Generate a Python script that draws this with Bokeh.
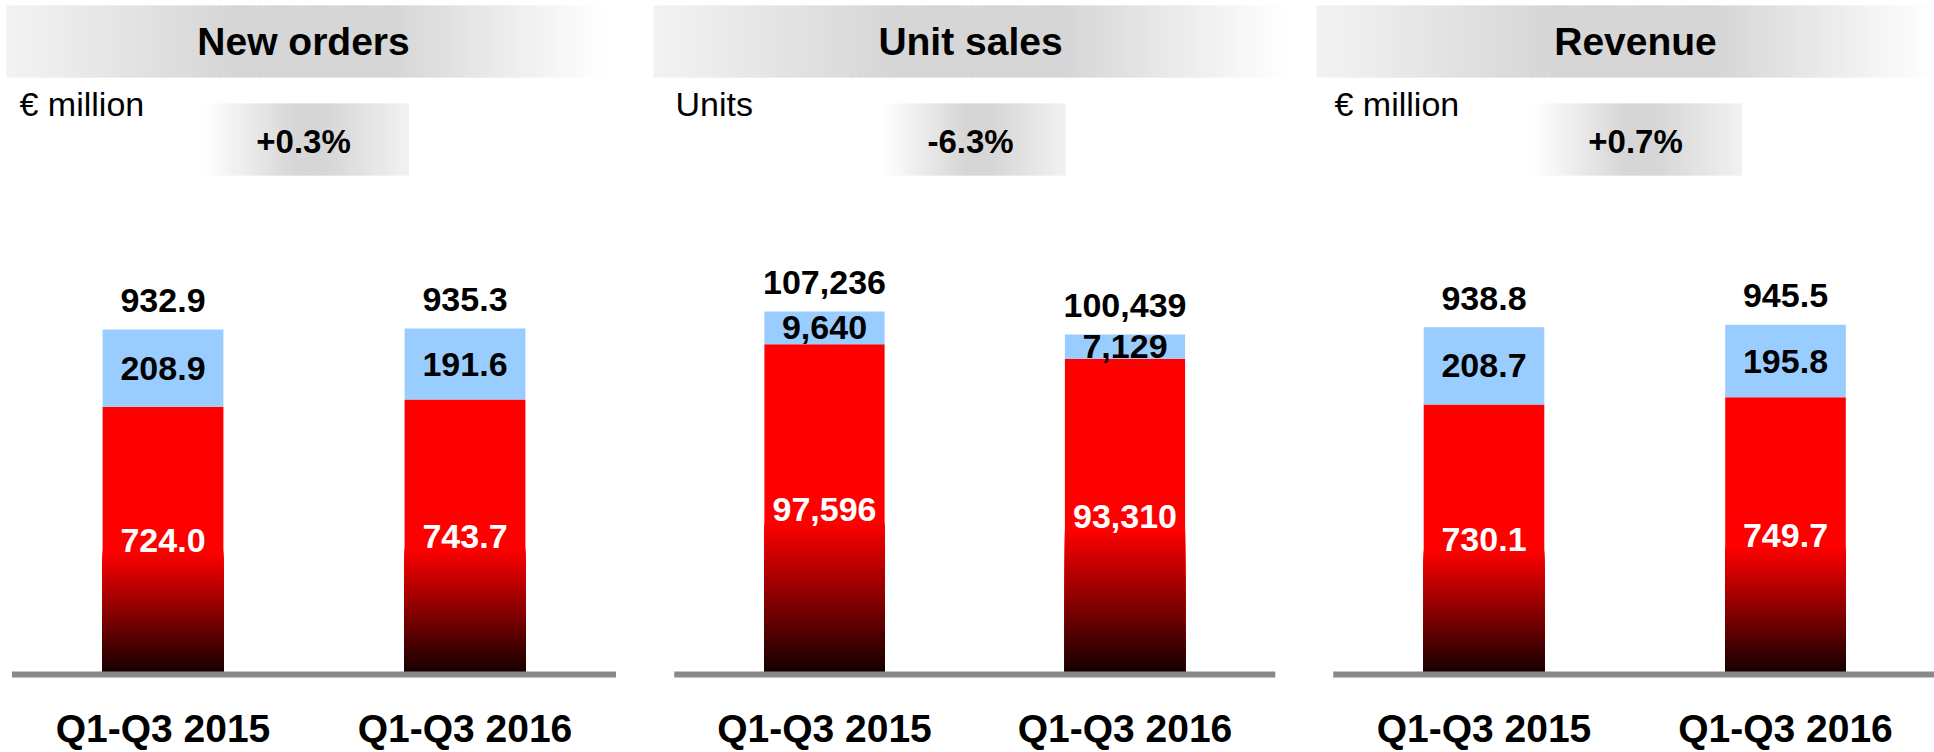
from bokeh.plotting import figure
from bokeh.layouts import row
from bokeh.models import Range1d, FixedTicker
from bokeh.embed import file_html
from bokeh.resources import INLINE
from bokeh.core.properties import value
import numpy as np

# ---------------- data ----------------
categories = ["Q1-Q3 2015", "Q1-Q3 2016"]
titles = ["New orders", "Unit sales", "Revenue"]
unit_labels = ["€ million", "Units", "€ million"]
changes = ["+0.3%", "-6.3%", "+0.7%"]

orders_domestic = [724.0, 743.7]
orders_other = [208.9, 191.6]
units_domestic = [97596, 93310]
units_other = [9640, 7129]
revenue_domestic = [730.1, 749.7]
revenue_other = [208.7, 195.8]

# ---------------- style / layout ----------------
FONT = "Liberation Sans"
H = 752
ZERO_Y = 674      # pixel row of the value 0 (baseline centre)
FRAME_H = 678     # frame reaches a little below the baseline so it is not clipped
RED = (255, 0, 0)
DARK = (16, 0, 0)
BLUE = "#99ccff"
BASE = "#898989"


def hexc(rgb):
    return "#%02x%02x%02x" % tuple(int(round(c)) for c in rgb)


def grey_profile(knots, levels, darkest, n):
    t = (np.arange(n) + 0.5) / n
    inten = np.interp(t, knots, levels)
    g = 255 - (255 - darkest) * inten
    return [hexc((v, v, v)) for v in g]


def make_panel(title, unit, change, red, blue, fmt, cfg):
    W = cfg["w"]
    c0, c1 = cfg["centers"]
    step = c1 - c0
    ppu = cfg["ppu"]
    p = figure(width=W, height=H,
               x_range=Range1d(-c0 / step, (W - c0) / step),
               y_range=Range1d(-(FRAME_H - ZERO_Y) / ppu, ZERO_Y / ppu),
               output_backend="svg", toolbar_location=None,
               y_axis_location=None, x_axis_location="below",
               min_border_left=0, min_border_right=0, min_border_top=0,
               min_border_bottom=H - FRAME_H, outline_line_color=None,
               border_fill_color="white", background_fill_color="white")
    p.grid.visible = False
    p.extra_x_ranges = {"px": Range1d(0, W)}
    p.extra_y_ranges = {"px": Range1d(FRAME_H, 0)}

    # title band (horizontal grey gradient)
    bl, br = cfg["band"]
    n = 90
    edges = np.linspace(bl, br, n + 1)
    ov = (br - bl) / n * 0.6
    p.quad(left=edges[:-1], right=edges[1:] + ov, top=5, bottom=77,
           fill_color=grey_profile([0, 0.38, 0.65, 1], [0.3, 1, 1, 0], 214, n),
           line_color=None, x_range_name="px", y_range_name="px")
    # change box
    kl, kr = cfg["box"]
    n2 = 50
    edges2 = np.linspace(kl, kr, n2 + 1)
    ov2 = (kr - kl) / n2 * 0.6
    p.quad(left=edges2[:-1], right=edges2[1:] + ov2, top=103, bottom=175,
           fill_color=grey_profile([0, 0.45, 0.6, 1], [0, 1, 1, 0.35], 214, n2),
           line_color=None, x_range_name="px", y_range_name="px")

    p.text(x=[cfg["tx"]], y=[41], text=[title], x_range_name="px", y_range_name="px",
           text_font=value(FONT), text_font_style="bold", text_font_size="39px",
           text_align="center", text_baseline="middle", text_color="black")
    p.text(x=[cfg["ux"]], y=[103], text=[unit], x_range_name="px", y_range_name="px",
           text_font=value(FONT), text_font_size="34px",
           text_align="left", text_baseline="middle", text_color="black")
    p.text(x=[cfg["tx"]], y=[141], text=[change], x_range_name="px", y_range_name="px",
           text_font=value(FONT), text_font_style="bold", text_font_size="33px",
           text_align="center", text_baseline="middle", text_color="black")

    idx = list(range(len(categories)))
    bw = 0.4
    # red bars: solid, then a dark-to-red gradient over the lower part (overlapping slices)
    g = 0.46
    ng = 64
    xs, tops, cols = list(idx), list(red), [hexc(RED)] * len(idx)
    for k in range(ng - 1, -1, -1):
        fm = (k + 0.5) / ng
        col = hexc(tuple(DARK[j] + (RED[j] - DARK[j]) * fm for j in range(3)))
        for i, r in zip(idx, red):
            xs.append(i); tops.append(g * r * (k + 1) / ng); cols.append(col)
    p.vbar(x=xs, width=bw, bottom=0, top=tops, fill_color=cols, line_color=None)
    totals = [r + b for r, b in zip(red, blue)]
    p.vbar(x=idx, width=bw, bottom=red, top=totals, fill_color=BLUE, line_color=None)

    # baseline
    p.segment(x0=[-0.5], y0=[0], x1=[len(categories) - 0.5], y1=[0], line_width=6, line_color=BASE)

    tf = dict(text_font=value(FONT), text_font_style="bold", text_font_size="34px",
              text_align="center", text_baseline="middle")
    p.text(x=idx, y=totals, text=[fmt(v) for v in totals], y_offset=-29, text_color="black", **tf)
    p.text(x=idx, y=[r + b / 2 for r, b in zip(red, blue)], text=[fmt(v) for v in blue],
           text_color="black", **tf)
    p.text(x=idx, y=[r / 2 for r in red], text=[fmt(v) for v in red], text_color="white", **tf)

    ax = p.xaxis[0]
    ax.ticker = FixedTicker(ticks=idx)
    ax.major_label_overrides = {i: c for i, c in zip(idx, categories)}
    ax.axis_line_color = None
    ax.major_tick_line_color = None
    ax.minor_tick_line_color = None
    ax.major_tick_out = 0
    ax.major_tick_in = 0
    ax.major_label_standoff = 32 - (FRAME_H - ZERO_Y)
    ax.major_label_text_font = FONT
    ax.major_label_text_font_style = "bold"
    ax.major_label_text_font_size = "39px"
    ax.major_label_text_color = "black"
    return p


fmt_dec = lambda v: f"{v:,.1f}"
fmt_int = lambda v: f"{int(round(v)):,}"

cfgs = [
    dict(w=650, centers=(162.5, 464.5), ppu=345.0 / 932.9, band=(6, 602), box=(204, 406), tx=303, ux=19),
    dict(w=650, centers=(174.0, 474.5), ppu=363.0 / 107236, band=(3, 636), box=(233, 413), tx=320, ux=25),
    dict(w=634, centers=(183.5, 485.0), ppu=345.0 / 932.9, band=(16, 634), box=(232, 439), tx=335, ux=34),
]

p1 = make_panel(titles[0], unit_labels[0], changes[0], orders_domestic, orders_other, fmt_dec, cfgs[0])
p2 = make_panel(titles[1], unit_labels[1], changes[1], units_domestic, units_other, fmt_int, cfgs[1])
p3 = make_panel(titles[2], unit_labels[2], changes[2], revenue_domestic, revenue_other, fmt_dec, cfgs[2])

layout = row(p1, p2, p3, spacing=0)

open("out.html", "w").write(file_html(layout, INLINE))
